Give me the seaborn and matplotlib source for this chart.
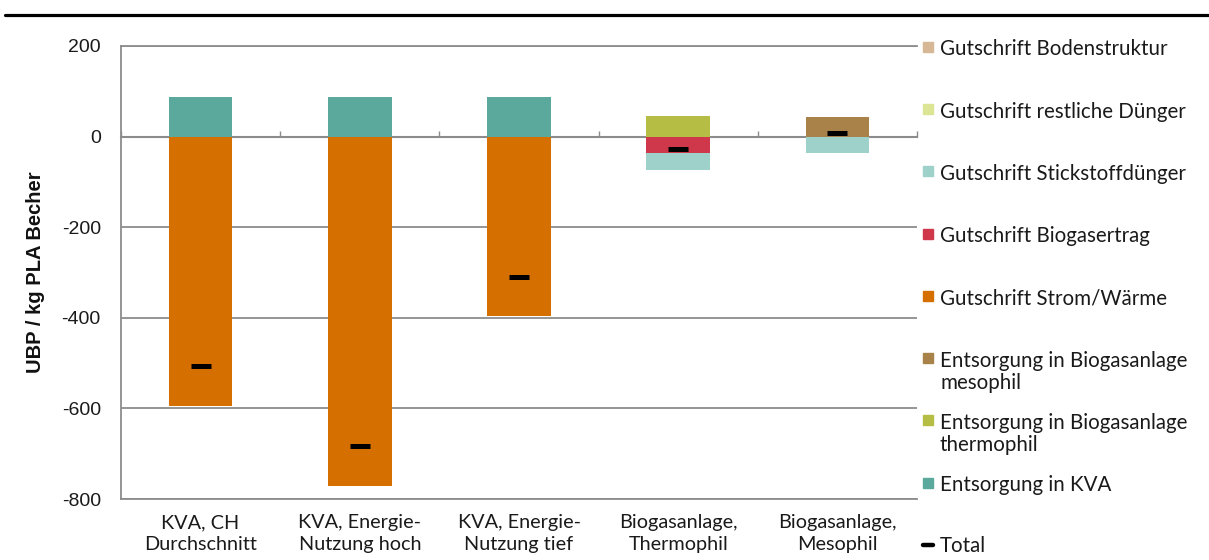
import numpy as np
import matplotlib
matplotlib.use("Agg")
import matplotlib.pyplot as plt
from matplotlib.patches import Rectangle
from matplotlib.lines import Line2D
import seaborn as sns

# ---- data (UBP per kg PLA cup) ----
categories = [
    "KVA, CH\nDurchschnitt",
    "KVA, Energie-\nNutzung hoch",
    "KVA, Energie-\nNutzung tief",
    "Biogasanlage,\nThermophil",
    "Biogasanlage,\nMesophil",
]
entsorgung_kva = [88, 88, 88, 0, 0]
entsorgung_thermophil = [0, 0, 0, 46, 0]
entsorgung_mesophil = [0, 0, 0, 0, 44]
gutschrift_strom_waerme = [-595, -771, -397, 0, 0]
gutschrift_biogasertrag = [0, 0, 0, -36, 0]
gutschrift_stickstoff = [0, 0, 0, -37, -36]
gutschrift_restl_duenger = [0, 0, 0, 0, 0]
gutschrift_bodenstruktur = [0, 0, 0, 0, 0]

y_ticks = [200, 0, -200, -400, -600, -800]

# stacking order: burdens upwards from zero, credits downwards from zero
positive_layers = [
    ("Entsorgung in KVA", entsorgung_kva, "#5aa99c"),
    ("Entsorgung in Biogasanlage\nthermophil", entsorgung_thermophil, "#b6bd45"),
    ("Entsorgung in Biogasanlage\nmesophil", entsorgung_mesophil, "#a88249"),
]
negative_layers = [
    ("Gutschrift Strom/Wärme", gutschrift_strom_waerme, "#d57000"),
    ("Gutschrift Biogasertrag", gutschrift_biogasertrag, "#cf374a"),
    ("Gutschrift Stickstoffdünger", gutschrift_stickstoff, "#9dd1ca"),
    ("Gutschrift restliche Dünger", gutschrift_restl_duenger, "#dce594"),
    ("Gutschrift Bodenstruktur", gutschrift_bodenstruktur, "#d6b796"),
]

layers = positive_layers + negative_layers
total = np.sum([np.array(v, dtype=float) for _, v, _ in layers], axis=0)

# ---- figure ----
sns.set_theme(style="white")
plt.rcParams["font.family"] = ["Lato", "DejaVu Sans"]
plt.rcParams["axes.unicode_minus"] = False

W, H = 1209, 560
fig = plt.figure(figsize=(W / 100, H / 100), dpi=100)
ax = fig.add_axes([121 / W, 1 - 499 / H, (917 - 121) / W, (499 - 46) / H])

grid_col = "#8c8c8c"

def draw_stack(stack):
    base = np.zeros(len(categories))
    for name, vals, col in stack:
        vals = np.array(vals, dtype=float)
        sns.barplot(x=categories, y=vals, bottom=base, color=col, saturation=1,
                    width=0.4, linewidth=0, errorbar=None, ax=ax, zorder=2)
        base = base + vals

draw_stack(positive_layers)
draw_stack(negative_layers)

sns.pointplot(x=categories, y=total, color="black", markers="_",
              linestyles="none", errorbar=None, ax=ax,
              markersize=14.5, markeredgewidth=3.6, zorder=4)

# ---- axes styling ----
ax.set_ylim(-800, 200)
ax.set_xlim(-0.5, len(categories) - 0.5)
ax.set_yticks(y_ticks)
ax.yaxis.grid(True, color=grid_col, linewidth=1.3, zorder=0)
ax.set_axisbelow(True)
ax.spines["right"].set_visible(False)
for side in ("top", "bottom", "left"):
    ax.spines[side].set_color(grid_col)
    ax.spines[side].set_linewidth(1.3)
ax.spines["left"].set_zorder(5)
ax.tick_params(axis="y", which="major", length=4.5, width=1, color=grid_col,
               direction="out", pad=10, labelsize=14, labelcolor="#1a1a1a")
for lbl in ax.get_yticklabels():
    lbl.set_fontfamily(["Liberation Sans", "DejaVu Sans"])
ax.tick_params(axis="x", length=0, pad=11, labelsize=14.3, labelcolor="#1a1a1a")
ax.set_xticks(range(len(categories)))
ax.set_xticklabels(categories, linespacing=1.32)
ax.set_xlabel("")
ax.set_ylabel("UBP / kg PLA Becher", fontsize=14.5, fontweight="bold",
              family=["Liberation Sans", "DejaVu Sans"], color="#111111")
ax.yaxis.set_label_coords(-0.095, 0.5)

# horizontal category axis crossing at zero
zero_frac = (0 - ax.get_ylim()[0]) / (ax.get_ylim()[1] - ax.get_ylim()[0])
sec = ax.secondary_xaxis(zero_frac)
sec.set_xticks(np.arange(len(categories) + 1) - 0.5)
sec.set_xticklabels([])
sec.tick_params(length=4, width=1, color=grid_col, direction="out")
for side in sec.spines:
    sec.spines[side].set_visible(False)
sec.spines["bottom"].set_visible(True)
sec.spines["bottom"].set_color(grid_col)
sec.spines["bottom"].set_linewidth(1.5)

# ---- legend (reverse stacking order, then total) ----
legend_items = [
    ("Gutschrift Bodenstruktur", "#d6b796"),
    ("Gutschrift restliche Dünger", "#dce594"),
    ("Gutschrift Stickstoffdünger", "#9dd1ca"),
    ("Gutschrift Biogasertrag", "#cf374a"),
    ("Gutschrift Strom/Wärme", "#d57000"),
    ("Entsorgung in Biogasanlage\nmesophil", "#a88249"),
    ("Entsorgung in Biogasanlage\nthermophil", "#b6bd45"),
    ("Entsorgung in KVA", "#5aa99c"),
]
y0, step = 46.7, 62.3
for i, (name, col) in enumerate(legend_items):
    yc = y0 + i * step
    fig.patches.append(Rectangle((923 / W, 1 - (yc + 5) / H), 10 / W, 10 / H,
                                 transform=fig.transFigure, color=col))
    fig.text(940 / W, 1 - (yc - 7.5) / H, name, fontsize=14.8, va="top",
             ha="left", linespacing=1.15, color="#1a1a1a")
yc = y0 + len(legend_items) * step
fig.lines.append(Line2D([923 / W, 933 / W], [1 - yc / H] * 2, color="black",
                        linewidth=3.2, transform=fig.transFigure))
fig.text(940 / W, 1 - (yc - 9.5) / H, "Total", fontsize=14.8, va="top",
         ha="left", color="#1a1a1a")

# rule above the chart
fig.lines.append(Line2D([5 / W, 1.0], [1 - 15 / H] * 2, color="black",
                        linewidth=2.3, transform=fig.transFigure))

fig.savefig("out.png", dpi=100)
